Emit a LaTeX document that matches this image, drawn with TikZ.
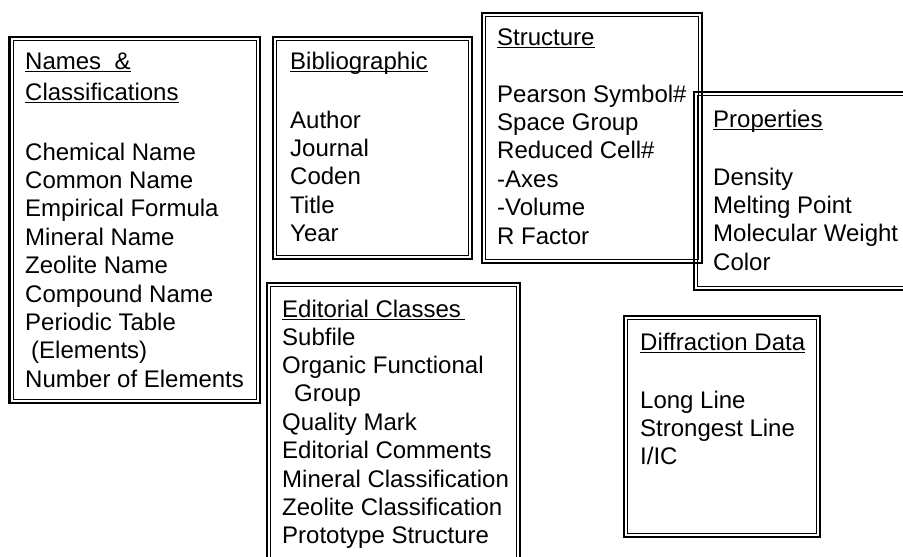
\documentclass[tikz,border=0pt]{standalone}
\usepackage{fontspec}
\setmainfont{Liberation Sans}
\newcommand{\hdr}[1]{\leavevmode\setbox0\hbox{#1}\rlap{\rule[-3.2pt]{\wd0}{1.1pt}}\box0}
\newcommand{\dbox}[4]{%
  \draw[outerln] (#1,#2) rectangle (#3,#4);
  \draw[innerln] ({#1+3.6},{#2+3.6}) rectangle ({#3-3.6},{#4-3.6});}
\newcommand{\lines}[1]{\parbox[t]{260pt}{\fontsize{24}{28.4}\selectfont\raggedright #1}}
\tikzset{
  outerln/.style={line width=2.1pt},
  innerln/.style={line width=0.9pt},
  txt/.style={anchor=base west, inner sep=0pt, font=\fontsize{24}{28.4}\selectfont}
}
\begin{document}
\begin{tikzpicture}[x=1pt,y=-1pt]
\useasboundingbox[fill=white] (0,0) rectangle (903,557);
% boxes
\dbox{9.5}{37}{260}{403}
\dbox{273}{37}{472}{259}
\dbox{482}{13}{702}{263}
\dbox{694}{92}{920}{290}
\dbox{267}{283}{520}{580}
\dbox{624}{316}{820}{537}
% Names & Classifications
\node[txt] (namesH) at (25,69) {\lines{\hdr{Names \ \&}\\[2.6pt]\hdr{Classifications}}};
\node[txt] (names) at (25,160) {\lines{Chemical Name\\Common Name\\Empirical Formula\\Mineral Name\\Zeolite Name\\Compound Name\\Periodic Table\\\hspace*{6pt}(Elements)\\Number of Elements}};
% Bibliographic
\node[txt] (bibH) at (290,69) {\hdr{Bibliographic}};
\node[txt] (bib) at (290,128) {\lines{Author\\Journal\\Coden\\Title\\Year}};
% Structure
\node[txt] (strH) at (497,45) {\hdr{Structure}};
\node[txt] (str) at (497,102) {\lines{Pearson Symbol\#\\Space Group\\Reduced Cell\#\\-Axes\\-Volume\\R Factor}};
% Properties
\node[txt] (propH) at (713,127) {\hdr{Properties}};
\node[txt] (prop) at (713,185) {\lines{Density\\Melting Point\\Molecular Weight\\Color}};
% Editorial Classes
\node[txt] (edH) at (282,317) {\hdr{Editorial Classes\,}};
\node[txt] (ed) at (282,345) {\lines{Subfile\\Organic Functional\\\hspace*{12pt}Group\\Quality Mark\\Editorial Comments\\Mineral Classification\\Zeolite Classification\\Prototype Structure}};
% Diffraction Data
\node[txt] (difH) at (640,350) {\hdr{Diffraction Data}};
\node[txt] (dif) at (640,408) {\lines{Long Line\\Strongest Line\\I/IC}};
\end{tikzpicture}
\end{document}
